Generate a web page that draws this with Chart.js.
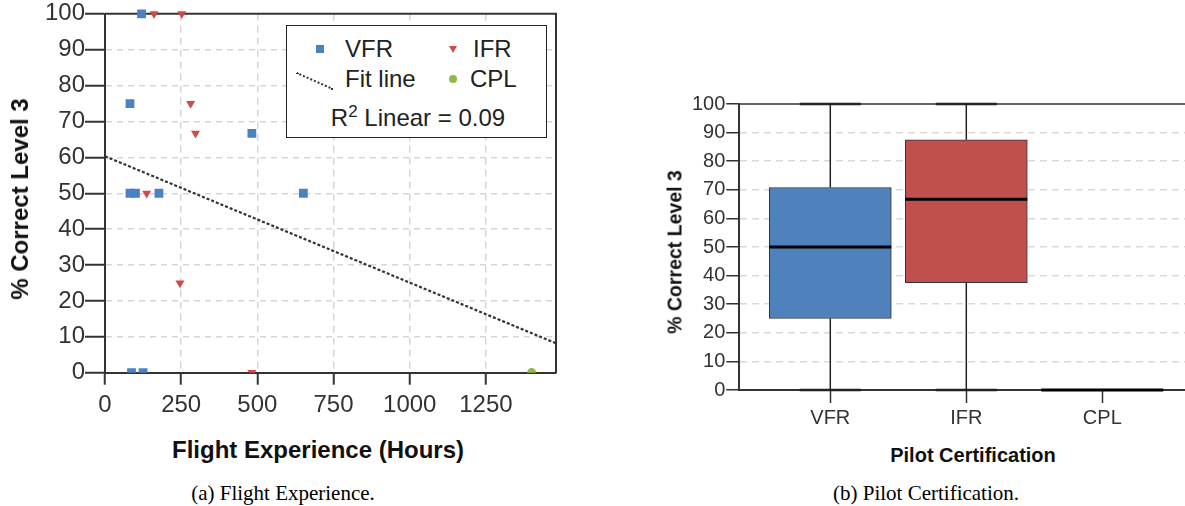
<!DOCTYPE html>
<html>
<head>
<meta charset="utf-8">
<script src="https://cdn.jsdelivr.net/npm/chart.js@4.4.1/dist/chart.umd.min.js"></script>
<style>
  html, body { margin: 0; padding: 0; width: 1185px; height: 506px; overflow: hidden; background: #fff; }
  body { position: relative; font-family: "Liberation Sans", Arial, sans-serif; }
  canvas { position: absolute; }
  .abs { position: absolute; white-space: nowrap; }
  .axis-title { font-weight: bold; color: #111; }
  .rot { transform: translate(-50%, -50%) rotate(-90deg); }
  .ctr { transform: translate(-50%, -50%); }
  .caption { font-family: "Liberation Serif", "Times New Roman", serif; font-size: 21px; color: #000; }
  #legendBox { position: absolute; left: 286px; top: 25px; width: 259px; height: 111px; border: 1.5px solid #222; background: #fff; }
  .lg { position: absolute; white-space: nowrap; font-size: 24px; color: #222; line-height: 30px; height: 30px; }
</style>
</head>
<body>

<canvas id="scatterChart" width="570" height="430" style="left:0;top:0;width:570px;height:430px"></canvas>
<canvas id="boxChart" width="560" height="360" style="left:640px;top:80px;width:560px;height:360px"></canvas>

<!-- legend for the scatter panel -->
<div id="legendBox">
  <span class="abs" style="left:29px;top:19px;width:8px;height:8px;background:#4a80c4"></span>
  <span class="lg" style="left:58px;top:8px">VFR</span>
  <span class="abs" style="left:162px;top:20px;width:0;height:0;border-left:4.5px solid transparent;border-right:4.5px solid transparent;border-top:7px solid #d04b47"></span>
  <span class="lg" style="left:186px;top:8px">IFR</span>
  <span class="abs" style="left:10px;top:46px;width:40px;height:0;border-top:2.5px dotted #333;transform:rotate(24deg);transform-origin:0 0"></span>
  <span class="lg" style="left:58px;top:38px">Fit line</span>
  <span class="abs" style="left:162px;top:49px;width:8px;height:8px;border-radius:50%;background:#8dbb4a"></span>
  <span class="lg" style="left:183px;top:38px">CPL</span>
  <span class="lg ctr" style="left:131px;top:92px">R<sup style="font-size:17px;line-height:0">2</sup> Linear = 0.09</span>
</div>

<div class="abs axis-title rot" style="left:20px;top:199px;font-size:24px">% Correct Level 3</div>
<div class="abs axis-title ctr" style="left:318px;top:450px;font-size:24px">Flight Experience (Hours)</div>
<div class="abs axis-title rot" style="left:675px;top:252px;font-size:19.5px">% Correct Level 3</div>
<div class="abs axis-title ctr" style="left:973px;top:455px;font-size:20px">Pilot Certification</div>

<div class="abs caption ctr" style="left:283px;top:493px">(a) Flight Experience.</div>
<div class="abs caption ctr" style="left:926px;top:493px">(b) Pilot Certification.</div>

<script>
// ---- Panel (a): flight hours vs. score ----
const vfrHours = [120, 82, 482, 82, 100, 177, 651, 87, 125];
const vfrScore = [100, 75, 66.7, 50, 50, 50, 50, 0, 0];
const ifrHours = [161, 252, 281, 297, 137, 246, 482];
const ifrScore = [100, 100, 75, 66.7, 50, 25, 0];
const cplHours = [1400];
const cplScore = [0];
const fitHours = [0, 1480];
const fitScore = [60.3, 8.2];
const hourTicks = [0, 250, 500, 750, 1000, 1250];
const scoreTicks = [0, 10, 20, 30, 40, 50, 60, 70, 80, 90, 100];

// ---- Panel (b): score by certification ----
const certCategories = ['VFR', 'IFR', 'CPL'];
const boxMin = [0, 0, 0];
const boxQ1 = [25, 37.5, 0];
const boxMedian = [50, 66.7, 0];
const boxQ3 = [70.8, 87.5, 0];
const boxMax = [100, 100, 0];
const boxFill = ['#4f81bd', '#c0504d', '#7f7f7f'];

const FONT = '"Liberation Sans", Arial, sans-serif';
const toPoints = (xs, ys) => xs.map((x, i) => ({ x: x, y: ys[i] }));
const clipBottom = { left: false, top: false, right: false, bottom: 0 };
const hidden = 'rgba(0,0,0,0)';

// frame along the top and right edges of the plot area
const plotFrame = {
  id: 'plotFrame',
  beforeDatasetsDraw(chart, args, opts) {
    const { ctx, chartArea: a } = chart;
    ctx.save();
    ctx.strokeStyle = '#333';
    ctx.lineWidth = opts.width || 2;
    ctx.beginPath();
    ctx.moveTo(a.left, a.top);
    ctx.lineTo(a.right, a.top);
    ctx.lineTo(a.right, a.bottom);
    ctx.stroke();
    ctx.restore();
  }
};

new Chart(document.getElementById('scatterChart'), {
  type: 'scatter',
  data: {
    datasets: [
      { label: 'Fit line', data: toPoints(fitHours, fitScore), showLine: true, pointRadius: 0,
        borderColor: '#333', borderWidth: 2.2, borderDash: [3, 2], fill: false },
      { label: 'VFR', data: toPoints(vfrHours, vfrScore), pointStyle: 'rect', pointRadius: 6.2,
        backgroundColor: '#4a80c4', borderWidth: 0, clip: clipBottom },
      { label: 'IFR', data: toPoints(ifrHours, ifrScore), pointStyle: 'triangle', rotation: 180, pointRadius: 5.2,
        backgroundColor: '#d04b47', borderWidth: 0, clip: clipBottom },
      { label: 'CPL', data: toPoints(cplHours, cplScore), pointStyle: 'circle', pointRadius: 4.6,
        backgroundColor: '#8dbb4a', borderWidth: 0, clip: clipBottom }
    ]
  },
  options: {
    responsive: false, animation: false,
    layout: { padding: { left: 0, top: 13.8, right: 14, bottom: 0 } },
    plugins: { legend: { display: false }, tooltip: { enabled: false }, plotFrame: { width: 2 } },
    scales: {
      x: {
        type: 'linear', min: 0, max: 1480,
        afterBuildTicks: s => { s.ticks = hourTicks.map(v => ({ value: v })); },
        afterFit: s => { s.height = 57.3; },
        ticks: { font: { family: FONT, size: 24, lineHeight: 1 }, color: '#333', padding: 9, maxRotation: 0,
                 autoSkip: false, includeBounds: false, callback: v => String(v) },
        grid: { color: c => (c.tick && c.tick.value === 0) ? hidden : '#d6d6d6', lineWidth: 1.5,
                tickLength: 12, tickColor: '#333', tickWidth: 2 },
        border: { color: '#333', width: 2, dash: [7, 5] }
      },
      y: {
        type: 'linear', min: 0, max: 100,
        afterBuildTicks: s => { s.ticks = scoreTicks.map(v => ({ value: v })); },
        afterFit: s => { s.width = 105; },
        ticks: { font: { family: FONT, size: 24, lineHeight: 1 }, color: '#333', padding: 0, autoSkip: false },
        grid: { color: c => (c.tick && (c.tick.value === 0 || c.tick.value === 100)) ? hidden : '#d6d6d6', lineWidth: 1.5,
                tickLength: 20, tickColor: '#333', tickWidth: 2 },
        border: { color: '#333', width: 2, dash: [6, 5] }
      }
    }
  },
  plugins: [plotFrame]
});

// whiskers, caps and medians drawn on top of the floating-bar boxes
const boxWhiskers = {
  id: 'boxWhiskers',
  afterDatasetsDraw(chart) {
    const { ctx, scales: { y } } = chart;
    const bars = chart.getDatasetMeta(0).data;
    const seg = (x1, y1, x2, y2) => { ctx.beginPath(); ctx.moveTo(x1, y1); ctx.lineTo(x2, y2); ctx.stroke(); };
    bars.forEach((bar, i) => {
      const cx = bar.x, half = bar.width / 2;
      const pMin = y.getPixelForValue(boxMin[i]), pQ1 = y.getPixelForValue(boxQ1[i]);
      const pMed = y.getPixelForValue(boxMedian[i]);
      const pQ3 = y.getPixelForValue(boxQ3[i]), pMax = y.getPixelForValue(boxMax[i]);
      ctx.save();
      ctx.strokeStyle = '#222';
      if (boxMax[i] > boxQ3[i]) {
        ctx.lineWidth = 1.5; seg(cx, pQ3, cx, pMax);
        ctx.lineWidth = 2.5; seg(cx - half / 2, pMax, cx + half / 2, pMax);
      }
      if (boxMin[i] < boxQ1[i]) {
        ctx.lineWidth = 1.5; seg(cx, pQ1, cx, pMin);
        ctx.lineWidth = 2.5; seg(cx - half / 2, pMin, cx + half / 2, pMin);
      }
      ctx.strokeStyle = '#000';
      ctx.lineWidth = 3;
      seg(cx - half, pMed, cx + half, pMed);
      ctx.restore();
    });
  }
};

new Chart(document.getElementById('boxChart'), {
  type: 'bar',
  data: {
    datasets: [{
      label: '% Correct Level 3',
      data: certCategories.map((c, i) => ({ x: i + 1, y: [boxQ1[i], boxQ3[i]] })),
      backgroundColor: boxFill, borderColor: '#333', borderWidth: 1, borderSkipped: false,
      barThickness: 122
    }]
  },
  options: {
    responsive: false, animation: false,
    layout: { padding: { left: 0, top: 24, right: 6.7, bottom: 0 } },
    plugins: { legend: { display: false }, tooltip: { enabled: false }, plotFrame: { width: 1.5 } },
    scales: {
      x: {
        type: 'linear', min: 0.331, max: 3.669, offset: false,
        afterBuildTicks: s => { s.ticks = certCategories.map((c, i) => ({ value: i + 1 })); },
        afterFit: s => { s.height = 50; },
        ticks: { font: { family: FONT, size: 20, lineHeight: 1 }, color: '#333', padding: 5, maxRotation: 0,
                 autoSkip: false, callback: v => certCategories[v - 1] },
        grid: { offset: false, drawOnChartArea: false, tickLength: 13, tickColor: '#333', tickWidth: 1.5 },
        border: { color: '#333', width: 2 }
      },
      y: {
        type: 'linear', min: 0, max: 100,
        afterBuildTicks: s => { s.ticks = scoreTicks.map(v => ({ value: v })); },
        afterFit: s => { s.width = 99.3; },
        ticks: { font: { family: FONT, size: 20, lineHeight: 1 }, color: '#333', padding: 1, autoSkip: false },
        grid: { color: c => (c.tick && (c.tick.value === 0 || c.tick.value === 100)) ? hidden : '#d9d9d9', lineWidth: 1.5,
                tickLength: 13, tickColor: '#333', tickWidth: 1.5 },
        border: { color: '#333', width: 2, dash: [7, 5] }
      }
    }
  },
  plugins: [plotFrame, boxWhiskers]
});
</script>
</body>
</html>
